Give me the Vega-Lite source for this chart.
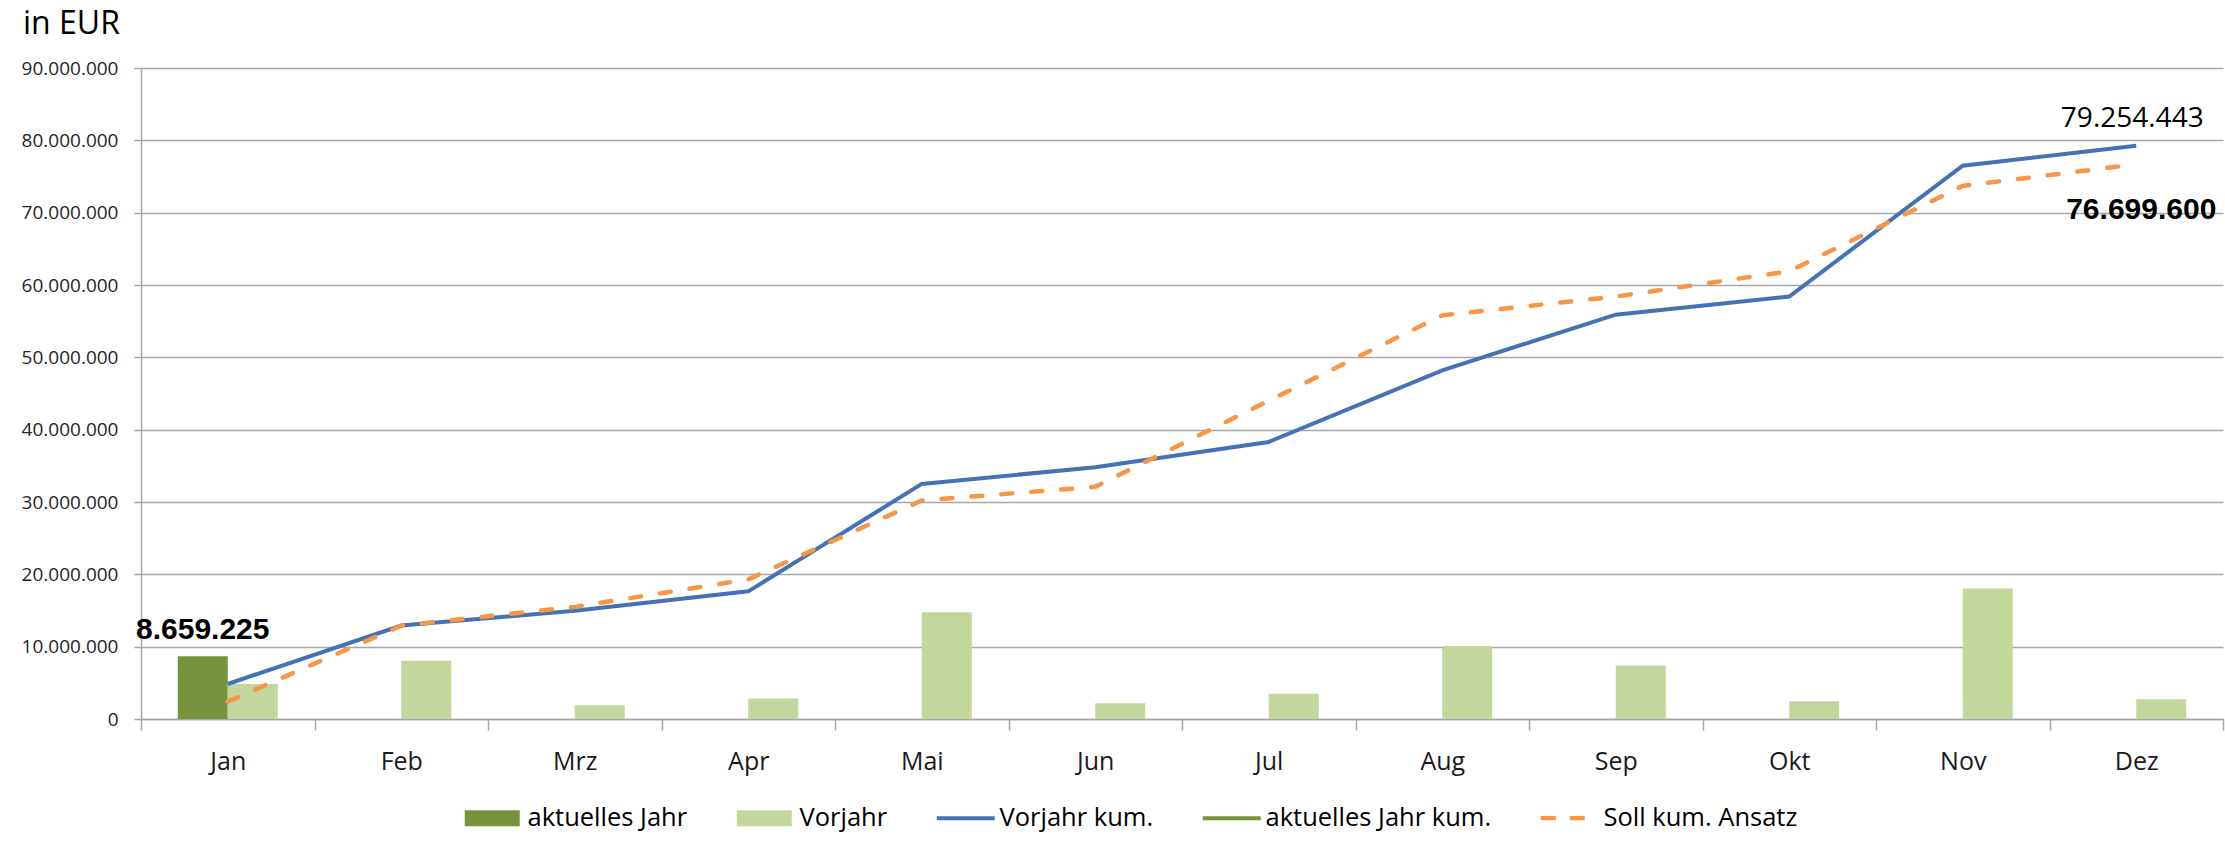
{
  "$schema": "https://vega.github.io/schema/vega-lite/v6.json",
  "autosize": {"type": "none"},
  "padding": {"left": 141, "top": 68, "right": 2, "bottom": 131},
  "width": 2082,
  "height": 651,
  "background": "white",
  "title": {"text": "in EUR", "anchor": "start", "frame": "group", "dx": -118, "offset": -7, "fontSize": 32, "font": "Open Sans", "fontWeight": "normal", "color": "#000000", "baseline": "alphabetic"},
  "config": {
    "locale": {"number": {"decimal": ",", "thousands": ".", "grouping": [3], "currency": ["", " €"]}},
    "view": {"stroke": null},
    "axis": {"labelFont": "Open Sans", "titleFont": "Open Sans"},
    "legend": {"labelFont": "Open Sans"}
  },
  "data": {"values": [
    {"month": "Jan", "series": "aktuelles Jahr", "value": 8659225},
    {"month": "Jan", "series": "Vorjahr", "value": 4840000},
    {"month": "Feb", "series": "Vorjahr", "value": 8070000},
    {"month": "Mrz", "series": "Vorjahr", "value": 1900000},
    {"month": "Apr", "series": "Vorjahr", "value": 2850000},
    {"month": "Mai", "series": "Vorjahr", "value": 14770000},
    {"month": "Jun", "series": "Vorjahr", "value": 2170000},
    {"month": "Jul", "series": "Vorjahr", "value": 3500000},
    {"month": "Aug", "series": "Vorjahr", "value": 10080000},
    {"month": "Sep", "series": "Vorjahr", "value": 7400000},
    {"month": "Okt", "series": "Vorjahr", "value": 2450000},
    {"month": "Nov", "series": "Vorjahr", "value": 18030000},
    {"month": "Dez", "series": "Vorjahr", "value": 2720000},
    {"month": "Jan", "series": "Vorjahr kum.", "value": 4840000},
    {"month": "Feb", "series": "Vorjahr kum.", "value": 12920000},
    {"month": "Mrz", "series": "Vorjahr kum.", "value": 14950000},
    {"month": "Apr", "series": "Vorjahr kum.", "value": 17650000},
    {"month": "Mai", "series": "Vorjahr kum.", "value": 32500000},
    {"month": "Jun", "series": "Vorjahr kum.", "value": 34800000},
    {"month": "Jul", "series": "Vorjahr kum.", "value": 38300000},
    {"month": "Aug", "series": "Vorjahr kum.", "value": 48200000},
    {"month": "Sep", "series": "Vorjahr kum.", "value": 55900000},
    {"month": "Okt", "series": "Vorjahr kum.", "value": 58400000},
    {"month": "Nov", "series": "Vorjahr kum.", "value": 76500000},
    {"month": "Dez", "series": "Vorjahr kum.", "value": 79254443},
    {"month": "Jan", "series": "aktuelles Jahr kum.", "value": 8659225},
    {"month": "Jan", "series": "Soll kum. Ansatz", "value": 2400000},
    {"month": "Feb", "series": "Soll kum. Ansatz", "value": 12900000},
    {"month": "Mrz", "series": "Soll kum. Ansatz", "value": 15500000},
    {"month": "Apr", "series": "Soll kum. Ansatz", "value": 19300000},
    {"month": "Mai", "series": "Soll kum. Ansatz", "value": 30200000},
    {"month": "Jun", "series": "Soll kum. Ansatz", "value": 32100000},
    {"month": "Jul", "series": "Soll kum. Ansatz", "value": 44000000},
    {"month": "Aug", "series": "Soll kum. Ansatz", "value": 55800000},
    {"month": "Sep", "series": "Soll kum. Ansatz", "value": 58400000},
    {"month": "Okt", "series": "Soll kum. Ansatz", "value": 61900000},
    {"month": "Nov", "series": "Soll kum. Ansatz", "value": 73700000},
    {"month": "Dez", "series": "Soll kum. Ansatz", "value": 76699600}
  ]},
  "encoding": {
    "x": {
      "field": "month", "type": "nominal",
      "scale": {"domain": ["Jan","Feb","Mrz","Apr","Mai","Jun","Jul","Aug","Sep","Okt","Nov","Dez"], "paddingInner": 0, "paddingOuter": 0},
      "axis": {"title": null, "labelAngle": 0, "labelFontSize": 25, "labelColor": "#1a1a1a", "labelPadding": 19, "tickSize": 11, "tickColor": "#a6a6a6", "domainColor": "#a6a6a6", "tickBand": "extent", "grid": false, "domainWidth": 1.5, "tickWidth": 1.5}
    },
    "y": {
      "field": "value", "type": "quantitative",
      "scale": {"domain": [0, 90000000], "nice": false},
      "axis": {"title": null, "values": [0,10000000,20000000,30000000,40000000,50000000,60000000,70000000,80000000,90000000], "format": ",d", "labelFontSize": 19, "labelColor": "#262626", "labelPadding": 16, "tickSize": 7, "tickColor": "#a6a6a6", "domainColor": "#a6a6a6", "gridColor": "#a6a6a6", "grid": true, "gridWidth": 1.5, "domainWidth": 1.5, "tickWidth": 1.5}
    }
  },
  "layer": [
    {
      "transform": [{"filter": "datum.series === 'aktuelles Jahr' || datum.series === 'Vorjahr'"}],
      "mark": {"type": "bar"},
      "encoding": {
        "xOffset": {"field": "series", "type": "nominal", "scale": {"domain": ["aktuelles Jahr", "Vorjahr"], "paddingInner": 0, "paddingOuter": 0.735}},
        "color": {
          "field": "series", "type": "nominal",
          "scale": {"domain": ["aktuelles Jahr","Vorjahr","Vorjahr kum.","aktuelles Jahr kum.","Soll kum. Ansatz"], "range": ["#77933C","#C3D69B","#4472B4","#77933C","#F79646"]},
          "legend": {
            "title": null, "orient": "none", "legendX": 319, "legendY": 737, "direction": "horizontal",
            "labelFontSize": 25.5, "labelColor": "#000000", "labelLimit": 500, "symbolSize": 256, "labelOffset": 42, "columnPadding": 44,
            "encode": {"symbols": {"update": {
              "shape": {"signal": "(datum.value === 'aktuelles Jahr' || datum.value === 'Vorjahr') ? 'M-1,-1H5.875V1H-1Z' : (datum.value === 'Soll kum. Ansatz' ? 'M-1,-0.28H0.875V0.28H-1Z M2.625,-0.28H4.5V0.28H2.625Z' : 'M-1,-0.25H6.25V0.25H-1Z')"},
              "fill": {"signal": "scale('color', datum.value)"},
              "strokeWidth": {"value": 0},
              "opacity": {"value": 1},
              "fillOpacity": {"value": 1}
            }}}
          }
        }
      }
    },
    {
      "transform": [{"filter": "datum.series === 'Vorjahr kum.' || datum.series === 'aktuelles Jahr kum.'"}],
      "mark": {"type": "line", "strokeWidth": 4},
      "encoding": {"color": {"field": "series", "type": "nominal"}}
    },
    {
      "transform": [{"filter": "datum.series === 'Soll kum. Ansatz'"}],
      "mark": {"type": "line", "strokeWidth": 4.5, "strokeDash": [11, 19], "strokeCap": "round"},
      "encoding": {"color": {"field": "series", "type": "nominal"}}
    },
    {
      "transform": [{"filter": "datum.series === 'aktuelles Jahr'"}],
      "mark": {"type": "text", "font": "Liberation Sans", "fontWeight": "bold", "fontSize": 30, "baseline": "alphabetic", "dy": -17, "color": "#000000"},
      "encoding": {
        "xOffset": {"field": "series", "type": "nominal"},
        "text": {"field": "value", "type": "quantitative", "format": ",d"}
      }
    },
    {
      "transform": [{"filter": "datum.series === 'Vorjahr kum.' && datum.month === 'Dez'"}],
      "mark": {"type": "text", "font": "Open Sans", "fontSize": 28, "baseline": "alphabetic", "dy": -19, "dx": -4, "color": "#000000"},
      "encoding": {"text": {"field": "value", "type": "quantitative", "format": ",d"}}
    },
    {
      "transform": [{"filter": "datum.series === 'Soll kum. Ansatz' && datum.month === 'Dez'"}],
      "mark": {"type": "text", "font": "Liberation Sans", "fontWeight": "bold", "fontSize": 30, "baseline": "alphabetic", "dy": 55, "dx": 5, "color": "#000000"},
      "encoding": {"text": {"field": "value", "type": "quantitative", "format": ",d"}}
    }
  ]
}
